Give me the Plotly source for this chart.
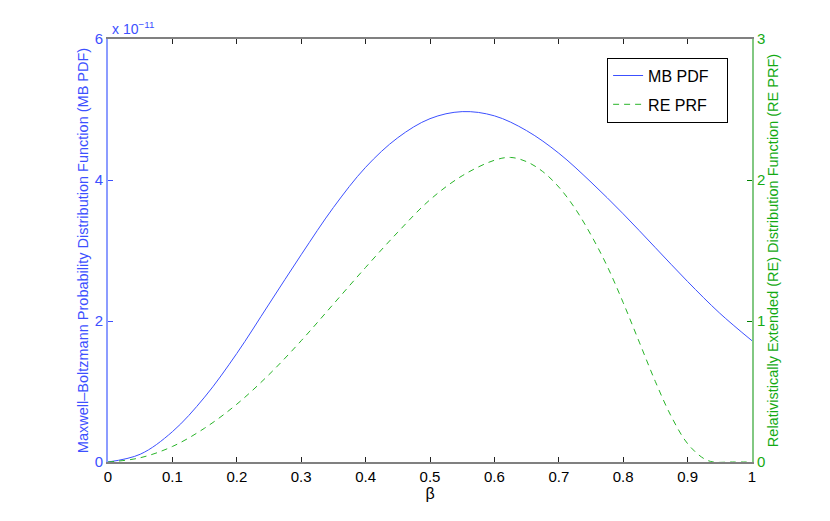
import plotly.graph_objects as go

# beta values and MB PDF (units of 1e-11)
beta_mb = [0.0, 0.05, 0.1, 0.15, 0.2, 0.25, 0.3, 0.35, 0.4, 0.45, 0.5,
           0.55, 0.6, 0.65, 0.7, 0.75, 0.8, 0.85, 0.9, 0.95, 1.0]
mb_pdf = [0.0, 0.11, 0.43, 0.92, 1.54, 2.24, 2.94, 3.61, 4.18, 4.60, 4.87,
          4.97, 4.91, 4.70, 4.38, 3.97, 3.52, 3.04, 2.56, 2.11, 1.72]

# beta values and RE PRF
beta_re = [0.0, 0.05, 0.1, 0.15, 0.2, 0.25, 0.3, 0.35, 0.4, 0.45, 0.5,
           0.55, 0.6, 0.625, 0.65, 0.675, 0.7, 0.725, 0.75, 0.775, 0.8,
           0.825, 0.85, 0.875, 0.9, 0.925, 0.94, 0.97, 1.0]
re_prf = [0.0, 0.03, 0.11, 0.24, 0.41, 0.62, 0.86, 1.12, 1.38, 1.63, 1.86,
          2.03, 2.14, 2.16, 2.13, 2.06, 1.95, 1.80, 1.61, 1.39, 1.13,
          0.85, 0.57, 0.32, 0.13, 0.025, 0.0, 0.0, 0.0]

series_names = ["MB PDF", "RE PRF"]

x_ticks = [0, 0.1, 0.2, 0.3, 0.4, 0.5, 0.6, 0.7, 0.8, 0.9, 1]
x_ticktext = ["0", "0.1", "0.2", "0.3", "0.4", "0.5", "0.6", "0.7", "0.8", "0.9", "1"]
y1_ticks = [0, 2, 4, 6]
y2_ticks = [0, 1, 2, 3]

BLUE = "rgb(60,80,255)"
GREEN = "rgb(40,180,40)"
GREEN_TXT = "rgb(20,170,20)"
FONT = "Liberation Sans, Arial, sans-serif"
PAD = "&nbsp;" * 3  # widen legend box to match reference

fig = go.Figure()
fig.add_trace(go.Scatter(x=beta_mb, y=mb_pdf, mode="lines", name=series_names[0] + PAD,
                         line=dict(color=BLUE, width=1, shape="spline"),
                         legendgroup="a"))
fig.add_trace(go.Scatter(x=beta_re, y=re_prf, mode="lines", name=series_names[1] + PAD,
                         line=dict(color=GREEN, width=1, dash="6px,5px", shape="spline"),
                         yaxis="y2", legendgroup="b"))

# page body has an 8px margin, so the figure is sized/shifted to compensate
fig.update_layout(
    width=822, height=513,
    margin=dict(l=100, r=78, t=31, b=59),
    paper_bgcolor="white", plot_bgcolor="white",
    font=dict(family=FONT, size=15, color="black"),
    xaxis=dict(range=[0, 1], tickvals=x_ticks, ticktext=x_ticktext,
               ticks="inside", ticklen=5, tickcolor="#222",
               showline=True, linecolor="#808080", linewidth=2, mirror="ticks",
               showgrid=False, zeroline=False,
               title=dict(text="β", font=dict(size=16), standoff=2)),
    yaxis=dict(range=[0, 6], tickvals=y1_ticks, ticktext=["0", "2", "4", "6"],
               ticks="inside", ticklen=5, tickcolor=BLUE,
               tickfont=dict(color=BLUE),
               showline=True, linecolor="rgb(140,156,255)", linewidth=2,
               showgrid=False, zeroline=False,
               title=dict(text="Maxwell–Boltzmann Probability Distribution Function (MB PDF)",
                          font=dict(size=14.5, color=BLUE), standoff=3)),
    yaxis2=dict(range=[0, 3], tickvals=y2_ticks, ticktext=["0", "1", "2", "3"],
                overlaying="y", side="right",
                ticks="inside", ticklen=5, tickcolor="rgb(0,130,0)",
                tickfont=dict(color=GREEN_TXT),
                showline=True, linecolor="rgb(130,200,130)", linewidth=2,
                showgrid=False, zeroline=False,
                title=dict(text="Relativistically Extended (RE) Distribution Function (RE PRF)",
                           font=dict(size=14.5, color=GREEN_TXT), standoff=3)),
    legend=dict(x=0.775, y=0.956, xanchor="left", yanchor="top",
                bordercolor="black", borderwidth=1, bgcolor="white",
                font=dict(size=16), tracegroupgap=5),
    showlegend=True,
)

fig.add_annotation(x=0, y=1, xref="paper", yref="paper", xanchor="left", yanchor="bottom",
                   text="x 10<sup>−11</sup>", showarrow=False, xshift=2, yshift=0,
                   font=dict(size=14, color=BLUE))

fig.write_html("out.html")
